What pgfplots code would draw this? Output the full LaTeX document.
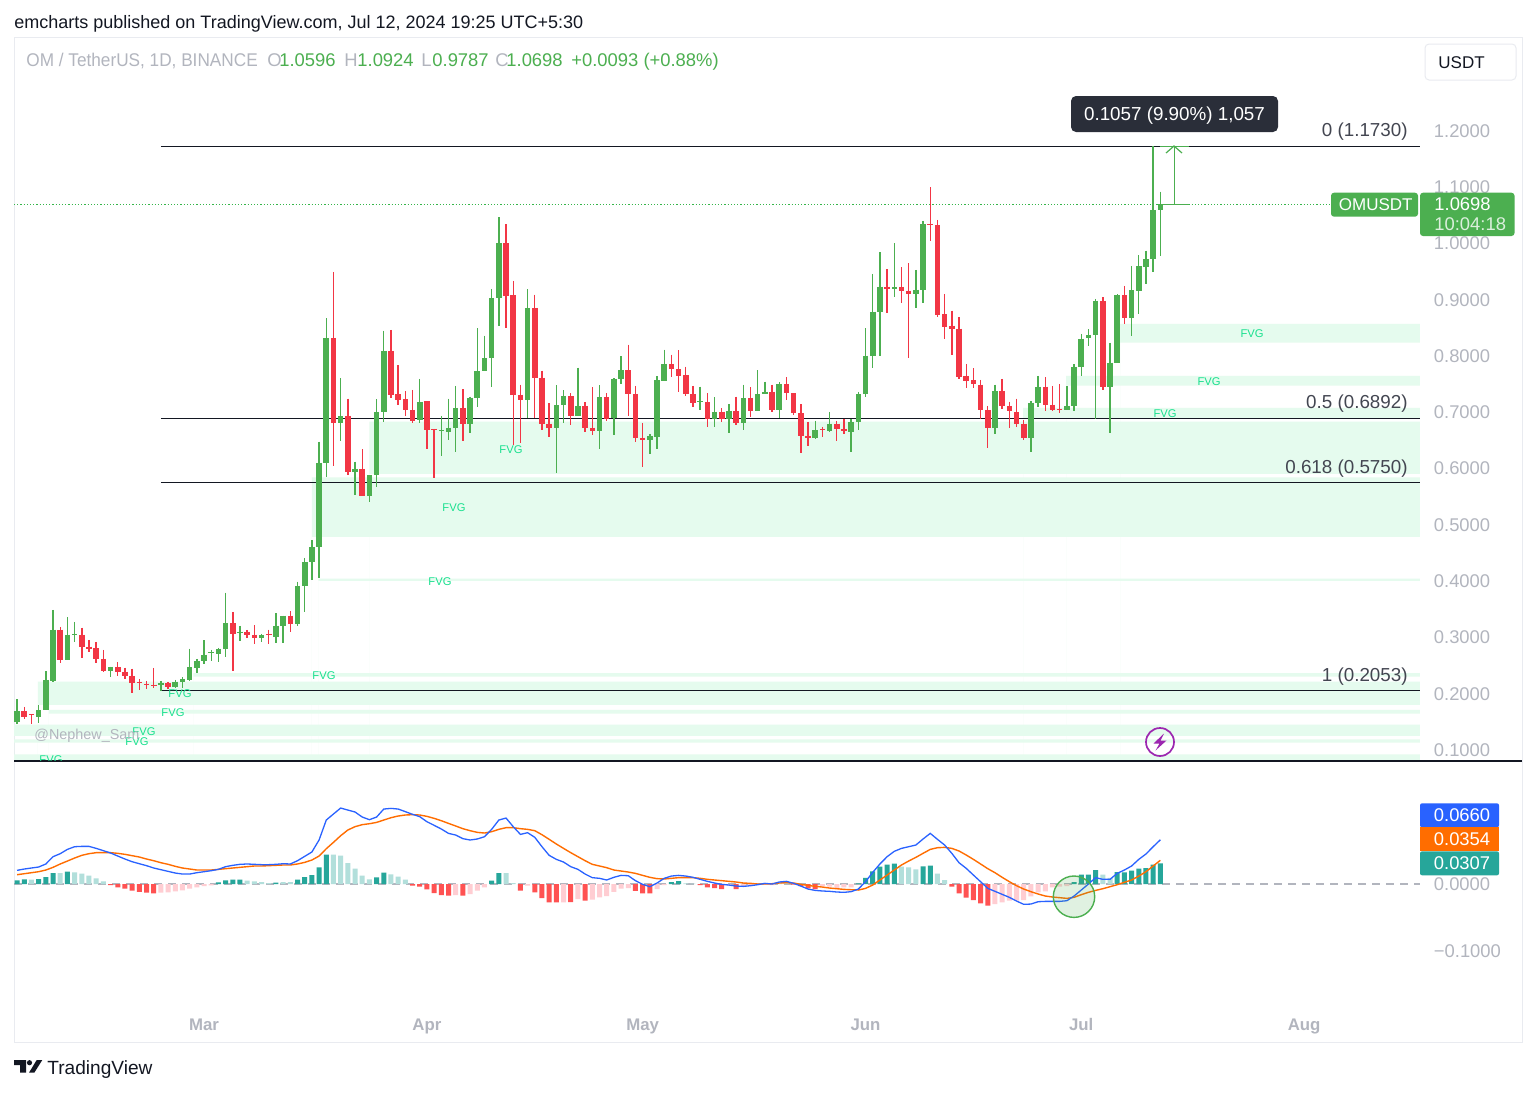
\documentclass[border=0pt]{standalone}
\usepackage{fontspec}
\setmainfont{Liberation Sans}
\usepackage{graphicx}
\usepackage{pgfplots}
\usepackage{pgfplotstable}
\pgfplotsset{compat=1.18}

\definecolor{cup}{HTML}{4CAF50}
\definecolor{cdown}{HTML}{F23645}
\definecolor{fvg}{HTML}{E5FBEE}
\definecolor{fvgtxt}{HTML}{18E08E}
\definecolor{frame}{HTML}{E9EBF0}
\definecolor{axtxt}{HTML}{B2B5BE}
\definecolor{ink}{HTML}{131722}
\definecolor{fibtxt}{HTML}{434651}
\definecolor{macd}{HTML}{2962FF}
\definecolor{signal}{HTML}{FF6D00}
\definecolor{histA}{HTML}{26A69A}
\definecolor{histB}{HTML}{B2DFDB}
\definecolor{histC}{HTML}{FF5252}
\definecolor{histD}{HTML}{FFCDD2}
\definecolor{tipbg}{HTML}{2A2E39}
\definecolor{bolt}{HTML}{9C27B0}
\definecolor{lastline}{HTML}{35B54A}

% x is days since 1 March 2024
\pgfplotstableread{
d o h l c
-26 .1506 .1902 .1458 .1695
-23 .1589 .1796 .1476 .1707
-22 .1707 .2400 .1707 .2246
-21 .2234 .3489 .2216 .3140
-19 .2601 .3359 .2601 .3051
-18 .3051 .3276 .2927 .3063
-13 .2412 .2483 .2299 .2477
-6 .2151 .2228 .2050 .2198
-4 .2116 .2246 .2098 .2216
-3 .2216 .2293 .2110 .2264
-2 .2246 .2802 .2222 .2471
-1 .2465 .2619 .2364 .2583
0 .2583 .2950 .2530 .2696
1 .2731 .2779 .2583 .2743
2 .2702 .2814 .2571 .2802
3 .2790 .3797 .2660 .3252
5 .3081 .3205 .2944 .3098
8 .2998 .3063 .2915 .3039
10 .3015 .3430 .2909 .3211
11 .3211 .3388 .2909 .3388
13 .3240 .3992 .3211 .3915
14 .3915 .4413 .3454 .4336
15 .4342 .4733 .4022 .4609
16 .4609 .6480 .4058 .6101
17 .6098 .8673 .5849 .8324
19 .6820 .7607 .6500 .6933
21 .5944 .6127 .5535 .5997
23 .5506 .5891 .5399 .5891
24 .5879 .7234 .5683 .7009
25 .7004 .8454 .6838 .8093
30 .6856 .7596 .6808 .7187
33 .6666 .6938 .6228 .6684
34 .6660 .7246 .6512 .6731
35 .6725 .7471 .6305 .7080
37 .6802 .7282 .6631 .7264
38 .7252 .8495 .7104 .7732
39 .7732 .8365 .7732 .7963
40 .7969 .9194 .7459 .9034
41 .9028 1.0467 .8543 1.0005
45 .7217 .9188 .6897 .8857
49 .6725 .7483 .5920 .7128
50 .7128 .7394 .6808 .7294
52 .6944 .7797 .6944 .7116
55 .6670 .7481 .6345 .7268
57 .6895 .7606 .6593 .7594
58 .7588 .8002 .7505 .7748
62 .6510 .6617 .6262 .6576
63 .6570 .7641 .6357 .7570
64 .7564 .8115 .7564 .7860
69 .7179 .7458 .7043 .7197
71 .6883 .7268 .6747 .7014
73 .6883 .7144 .6629 .7025
75 .6812 .7493 .6688 .7256
77 .7031 .7748 .7031 .7321
78 .7327 .7546 .7327 .7369
80 .7043 .7535 .6901 .7505
85 .6546 .6854 .6534 .6688
87 .6676 .7008 .6658 .6800
90 .6658 .6877 .6303 .6830
91 .6824 .7363 .6682 .7321
92 .7318 .8496 .7270 .8010
93 .8010 .9461 .7797 .8792
94 .8792 .9845 .8010 .9236
96 .9200 1.0005 .9046 .9230
99 .9099 .9532 .8863 .9182
100 .9176 1.0402 .8951 1.0343
110 .6726 .7495 .6619 .7383
115 .6542 .7199 .6293 .7175
116 .7170 .7649 .7087 .7460
120 .7051 .7471 .7051 .7116
121 .7110 .7856 .7033 .7809
122 .7809 .8395 .7649 .8312
123 .8330 .8478 .8182 .8377
124 .8377 .9017 .6891 .8987
126 .7460 .8241 .6631 .7886
127 .7886 .9099 .7886 .9088
129 .8685 .9603 .8365 .9170
130 .9159 .9792 .8744 .9597
131 .9585 .9875 .9283 .9721
132 .9721 1.1730 .9496 1.0596
133 1.0596 1.0924 .9787 1.0698
}\upcandles

\pgfplotstableread{
d o h l c
-25 .1695 .1766 .1559 .1595
-24 .1636 .1640 .1458 .1618
-20 .3140 .3187 .2554 .2601
-17 .3051 .3175 .2642 .2832
-16 .2838 .2956 .2749 .2802
-15 .2808 .2921 .2554 .2613
-14 .2619 .2779 .2394 .2412
-12 .2471 .2560 .2323 .2388
-11 .2394 .2465 .2258 .2317
-10 .2317 .2447 .2021 .2187
-9 .2210 .2258 .2062 .2193
-8 .2181 .2228 .2092 .2163
-7 .2163 .2459 .2110 .2145
-5 .2198 .2210 .2092 .2121
4 .3252 .3454 .2412 .3069
6 .3104 .3134 .2992 .3051
7 .3051 .3217 .2879 .2992
9 .3063 .3140 .2879 .3045
12 .3388 .3465 .3092 .3240
18 .8324 .9496 .6050 .6820
20 .6939 .7246 .5879 .5944
22 .5997 .6341 .5506 .5506
26 .8093 .8466 .7252 .7311
27 .7323 .7838 .7134 .7229
28 .7234 .7377 .6939 .7045
29 .7045 .7400 .6808 .6844
31 .7199 .7199 .6352 .6690
32 .6708 .6708 .5831 .6684
36 .7080 .7412 .6500 .6802
42 1.0005 1.0342 .8495 .9076
43 .9082 .9336 .6423 .7317
44 .7317 .7495 .6453 .7217
46 .8857 .9093 .6897 .7619
47 .7619 .7744 .6690 .6802
48 .6802 .7163 .6560 .6725
51 .7288 .7341 .6773 .6944
53 .7116 .7181 .6660 .6725
54 .6729 .7446 .6593 .6670
56 .7268 .7339 .6854 .6877
59 .7748 .8204 .6937 .7327
60 .7327 .7469 .6469 .6546
61 .6552 .6812 .6037 .6510
65 .7860 .8026 .7623 .7765
66 .7771 .8103 .7363 .7641
67 .7659 .7813 .7298 .7333
68 .7327 .7469 .7102 .7162
70 .7179 .7339 .6735 .6889
72 .7014 .7073 .6836 .6889
74 .7025 .7280 .6783 .6806
76 .7256 .7446 .6913 .7025
79 .7369 .7493 .7002 .7043
81 .7505 .7623 .7221 .7339
82 .7339 .7339 .6954 .6984
83 .6984 .7144 .6285 .6581
84 .6581 .6830 .6404 .6546
86 .6706 .6741 .6558 .6688
88 .6800 .6848 .6499 .6700
89 .6706 .6889 .6617 .6664
95 .9236 .9543 .8774 .9194
97 .9230 .9579 .8940 .9165
98 .9165 .9650 .7974 .9099
101 1.0349 1.1000 1.0053 1.0337
102 1.0331 1.0420 .8703 .8732
103 .8744 .9105 .8312 .8525
104 .8543 .8809 .8022 .8490
105 .8490 .8691 .7602 .7637
106 .7649 .7862 .7442 .7566
107 .7572 .7785 .7430 .7513
108 .7495 .7578 .6879 .7039
109 .7039 .7116 .6376 .6726
111 .7383 .7596 .7057 .7116
112 .7116 .7193 .6714 .7016
113 .7004 .7246 .6737 .6802
114 .6802 .6868 .6518 .6542
117 .7460 .7625 .7033 .7134
118 .7140 .7471 .7033 .7051
119 .7069 .7501 .6986 .7051
125 .8981 .9046 .7400 .7460
128 .9082 .9247 .8572 .8685
}\downcandles

\pgfplotstableread{
d v
-26 .0055
-25 .0070
-23 .0075
-22 .0104
-21 .0164
-19 .0184
2 .0025
3 .0055
4 .0065
5 .0065
10 .0020
13 .0065
14 .0104
15 .0134
16 .0249
17 .0438
24 .0100
25 .0169
40 .0050
41 .0164
65 .0030
66 .0045
91 .0010
92 .0090
93 .0189
94 .0259
95 .0289
96 .0303
100 .0264
101 .0274
121 .0030
122 .0139
123 .0139
124 .0209
127 .0179
128 .0174
129 .0199
130 .0229
131 .0239
132 .0289
133 .0307
}\barsA

\pgfplotstableread{
d v
-24 .0065
-20 .0164
-18 .0174
-17 .0154
-16 .0124
-15 .0085
-14 .0040
6 .0050
7 .0040
8 .0030
9 .0015
11 .0030
12 .0030
18 .0438
19 .0423
20 .0313
21 .0229
22 .0124
23 .0070
26 .0144
27 .0109
28 .0065
42 .0164
43 .0015
67 .0010
68 .0005
77 .0005
80 .0010
81 .0010
97 .0259
98 .0249
99 .0219
102 .0154
103 .0060
125 .0139
126 .0090
}\barsB

\pgfplotstableread{
d v
-13 -.0015
-12 -.0050
-11 -.0070
-10 -.0100
-9 -.0119
-8 -.0129
-7 -.0139
29 -.0025
30 -.0040
31 -.0080
32 -.0134
33 -.0164
34 -.0174
36 -.0174
44 -.0100
46 -.0124
47 -.0209
48 -.0274
49 -.0274
51 -.0269
53 -.0249
60 -.0104
61 -.0139
62 -.0139
69 -.0015
70 -.0050
71 -.0060
72 -.0075
74 -.0075
82 -.0010
83 -.0030
84 -.0065
85 -.0075
104 -.0040
105 -.0139
106 -.0204
107 -.0239
108 -.0289
109 -.0323
}\barsC

\pgfplotstableread{
d v
-6 -.0129
-5 -.0124
-4 -.0109
-3 -.0095
-2 -.0070
-1 -.0050
0 -.0030
1 -.0020
35 -.0164
37 -.0149
38 -.0100
39 -.0050
45 -.0025
50 -.0274
52 -.0224
54 -.0234
55 -.0199
56 -.0179
57 -.0119
58 -.0070
59 -.0060
63 -.0075
64 -.0015
73 -.0025
75 -.0030
76 -.0020
78 -.0010
79 -.0015
86 -.0030
87 -.0040
88 -.0060
89 -.0050
90 -.0050
110 -.0299
111 -.0274
112 -.0249
113 -.0249
114 -.0239
115 -.0184
116 -.0124
117 -.0109
118 -.0050
119 -.0040
120 -.0030
}\barsD

% macd and signal lines
\pgfplotstableread{
d m s
-26 .0204 .0139
-25 .0224 .0154
-24 .0239 .0169
-23 .0254 .0184
-22 .0299 .0209
-21 .0408 .0249
-20 .0453 .0299
-19 .0517 .0343
-18 .0557 .0388
-17 .0562 .0428
-16 .0562 .0453
-15 .0532 .0468
-14 .0498 .0468
-13 .0463 .0468
-12 .0418 .0458
-11 .0373 .0443
-10 .0333 .0423
-9 .0303 .0403
-8 .0274 .0373
-7 .0239 .0348
-6 .0214 .0318
-5 .0189 .0294
-4 .0164 .0264
-3 .0149 .0239
-2 .0149 .0224
-1 .0169 .0209
0 .0184 .0209
1 .0199 .0209
2 .0219 .0219
3 .0259 .0229
4 .0279 .0239
5 .0294 .0249
6 .0299 .0259
7 .0294 .0269
8 .0289 .0269
9 .0289 .0274
10 .0294 .0279
11 .0303 .0284
12 .0299 .0284
13 .0348 .0299
14 .0413 .0323
15 .0478 .0358
16 .0657 .0418
17 .0955 .0527
18 .1045 .0622
19 .1134 .0721
20 .1104 .0806
21 .1075 .0856
22 .1000 .0886
23 .0960 .0900
24 .1000 .0920
25 .1119 .0955
26 .1129 .0990
27 .1119 .1015
28 .1080 .1030
29 .1040 .1035
30 .1005 .1030
31 .0930 .1010
32 .0876 .0980
33 .0821 .0945
34 .0756 .0905
35 .0731 .0866
36 .0677 .0826
37 .0657 .0796
38 .0672 .0771
39 .0706 .0761
40 .0816 .0781
41 .0955 .0816
42 .0985 .0841
43 .0856 .0841
44 .0741 .0826
45 .0766 .0816
46 .0697 .0796
47 .0557 .0736
48 .0428 .0667
49 .0368 .0597
50 .0328 .0532
51 .0259 .0468
52 .0219 .0408
53 .0149 .0348
54 .0095 .0294
55 .0085 .0269
56 .0060 .0244
57 .0100 .0209
58 .0129 .0194
59 .0124 .0179
60 .0050 .0159
61 -.0005 .0129
62 -.0040 .0100
63 .0015 .0080
64 .0085 .0075
65 .0119 .0085
66 .0129 .0095
67 .0119 .0095
68 .0100 .0095
69 .0070 .0085
70 .0040 .0070
71 .0015 .0060
72 -.0005 .0050
73 -.0015 .0040
74 -.0030 .0030
75 -.0035 .0015
76 -.0025 .0010
77 -.0010 0
78 .0010 0
79 0 .0005
80 .0030 .0015
81 .0040 .0020
82 .0010 .0015
83 -.0030 -.0005
84 -.0075 -.0020
85 -.0095 -.0035
86 -.0104 -.0045
87 -.0109 -.0060
88 -.0119 -.0070
89 -.0124 -.0080
90 -.0114 -.0085
91 -.0075 -.0090
92 .0035 -.0065
93 .0174 -.0015
94 .0299 .0060
95 .0408 .0134
96 .0488 .0209
97 .0532 .0284
98 .0557 .0343
99 .0582 .0398
100 .0672 .0458
101 .0756 .0517
102 .0667 .0542
103 .0582 .0547
104 .0458 .0532
105 .0318 .0493
106 .0234 .0433
107 .0134 .0368
108 .0035 .0299
109 -.0065 .0229
110 -.0109 .0169
111 -.0154 .0100
112 -.0199 .0035
113 -.0254 -.0025
114 -.0303 -.0075
115 -.0299 -.0114
116 -.0264 -.0149
117 -.0259 -.0179
118 -.0259 -.0194
119 -.0259 -.0204
120 -.0249 -.0214
121 -.0179 -.0199
122 -.0090 -.0159
123 0 -.0124
124 .0095 -.0095
125 .0070 -.0070
126 .0070 -.0040
127 .0159 -.0010
128 .0209 .0025
129 .0269 .0060
130 .0368 .0119
131 .0448 .0184
132 .0557 .0269
133 .0660 .0354
}\macdlines

\pgfplotsset{
  pane/.style={
    scale only axis, anchor=north west, width=754pt,
    xmin=-26.43, xmax=183.3,
    axis line style={draw=frame, line width=.5pt},
    major tick length=0pt,
    yticklabel pos=right,
    ticklabel style={font=\fontsize{9.2}{11}\selectfont, text=axtxt, inner sep=0pt},
    yticklabel style={anchor=west, xshift=-44.25pt},
  },
  fvgband/.style={fill=fvg, draw=none, forget plot},
  fibline/.style={ink, line width=.55pt, forget plot},
  wick/.style={draw=none, no markers, forget plot,
    error bars/y dir=minus, error bars/y explicit, error bars/error mark=none,
    error bars/error bar style={draw=#1, line width=.7pt}},
  body/.style={draw=none, no markers, forget plot,
    error bars/y dir=minus, error bars/y explicit, error bars/error mark=none,
    error bars/error bar style={draw=#1, line width=2.8pt}},
  hist/.style={ybar, bar width=2.5pt, bar shift=0pt, fill=#1, draw=none, forget plot},
}

\begin{document}
\begin{tikzpicture}
\fill[white] (0,0) rectangle (768pt,-546pt);
\useasboundingbox (0,0) rectangle (768pt,-546pt);

% price pane
\begin{axis}[pane, at={(7pt,-19pt)}, height=361.5pt,
  ymin=.0805, ymax=1.3653,
  xtick=\empty,
  ytick={.1,.2,.3,.4,.5,.6,.7,.8,.9,1,1.1,1.2},
  yticklabel style={/pgf/number format/.cd, fixed, fixed zerofill, precision=4, assume math mode=true},
]
\addplot[fvgband] coordinates {(23,.6835)(169.1,.6835)(169.1,.5906)(23,.5906)} \closedcycle;
\addplot[fvgband] coordinates {(15,.5847)(169.1,.5847)(169.1,.4787)(15,.4787)} \closedcycle;
\addplot[fvgband] coordinates {(113.9,.7079)(169.1,.7079)(169.1,.6892)(113.9,.6892)} \closedcycle;
\addplot[fvgband] coordinates {(119.9,.7648)(169.1,.7648)(169.1,.7475)(119.9,.7475)} \closedcycle;
\addplot[fvgband] coordinates {(127.4,.8571)(169.1,.8571)(169.1,.8239)(127.4,.8239)} \closedcycle;
\addplot[fvgband] coordinates {(15.9,.4045)(169.1,.4045)(169.1,.4005)(15.9,.4005)} \closedcycle;
\addplot[fvgband] coordinates {(-1.5,.2365)(169.1,.2365)(169.1,.2305)(-1.5,.2305)} \closedcycle;
\addplot[fvgband] coordinates {(-23.1,.2215)(169.1,.2215)(169.1,.1801)(-23.1,.1801)} \closedcycle;
\addplot[fvgband] coordinates {(-21.6,.1712)(169.1,.1712)(169.1,.1647)(-21.6,.1647)} \closedcycle;
\addplot[fvgband] coordinates {(-26.43,.1452)(169.1,.1452)(169.1,.1251)(-26.43,.1251)} \closedcycle;
\addplot[fvgband] coordinates {(-26.43,.1191)(169.1,.1191)(169.1,.1132)(-26.43,.1132)} \closedcycle;
\addplot[fvgband] coordinates {(-26.43,.0925)(169.1,.0925)(169.1,.0824)(-26.43,.0824)} \closedcycle;

\addplot[fibline] coordinates {(-6,1.1730)(169.1,1.1730)};
\addplot[fibline] coordinates {(-6,.6892)(169.1,.6892)};
\addplot[fibline] coordinates {(-6,.5750)(169.1,.5750)};
\addplot[fibline] coordinates {(-6,.2053)(169.1,.2053)};
\addplot[lastline, line width=.6pt, densely dotted, forget plot] coordinates {(-26.43,1.0698)(156.6,1.0698)};

\addplot[wick=cup] table[x=d, y=h, y error minus expr=\thisrow{h}-\thisrow{l}] {\upcandles};
\addplot[wick=cdown] table[x=d, y=h, y error minus expr=\thisrow{h}-\thisrow{l}] {\downcandles};
\addplot[body=cup] table[x=d, y=c, y error minus expr=\thisrow{c}-\thisrow{o}] {\upcandles};
\addplot[body=cdown] table[x=d, y=o, y error minus expr=\thisrow{o}-\thisrow{c}] {\downcandles};

% long position tool
\addplot[cup, line width=.6pt, forget plot] coordinates {(133,1.0698)(137,1.0698)};
\addplot[cup, line width=.6pt, forget plot] coordinates {(133,1.1730)(137,1.1730)};
\addplot[cup, line width=.6pt, forget plot] coordinates {(135,1.0698)(135,1.1730)};
\end{axis}

% macd pane
\begin{axis}[pane, at={(7pt,-380.5pt)}, height=140.5pt,
  ymin=-.2358, ymax=.1836,
  xtick={0,31,61,92,122,153},
  xticklabels={Mar,Apr,May,Jun,Jul,Aug},
  xticklabel style={font=\fontsize{8.4}{10}\selectfont\bfseries, anchor=base, yshift=6pt},
  ytick={-.1,0},
  yticklabels={−0.1000,0.0000},
]
\addplot[axtxt, line width=.55pt, dash pattern=on 4pt off 3pt, forget plot] coordinates {(-26.43,0)(169.1,0)};
\addplot[hist=histA] table[x=d, y=v] {\barsA};
\addplot[hist=histB] table[x=d, y=v] {\barsB};
\addplot[hist=histC] table[x=d, y=v] {\barsC};
\addplot[hist=histD] table[x=d, y=v] {\barsD};
\addplot[signal, line width=.7pt, forget plot] table[x=d, y=s] {\macdlines};
\addplot[macd, line width=.65pt, forget plot] table[x=d, y=m] {\macdlines};
\end{axis}

% overlays, in pixels of the reference from its top left corner
\begin{scope}[x=.5pt, y=-.5pt]
\draw[ink, line width=.6pt] (14,761) -- (1522,761);
\tikzset{t/.style={anchor=base west, inner sep=0pt, font=\fontsize{9.2}{11}\selectfont}}
\node[t, text=ink, font=\fontsize{9}{11}\selectfont] at (14,28) {emcharts published on TradingView.com, Jul 12, 2024 19:25 UTC+5:30};
\node[t, text=axtxt] at (26,66) {\scalebox{.935}[1]{OM / TetherUS, 1D, BINANCE}};
\node[t, text=axtxt] at (267,66) {O};
\node[t, text=cup] at (279,66) {1.0596};
\node[t, text=axtxt] at (344,66) {H};
\node[t, text=cup] at (357,66) {1.0924};
\node[t, text=axtxt] at (421,66) {L};
\node[t, text=cup] at (432,66) {0.9787};
\node[t, text=axtxt] at (495,66) {C};
\node[t, text=cup] at (506,66) {1.0698};
\node[t, text=cup] at (571,66) {+0.0093 (+0.88\%)};

\draw[frame, fill=white, rounded corners=2pt, line width=.5pt] (1425,44) rectangle (1516,80);
\node[t, text=ink, font=\fontsize{8.5}{10}\selectfont] at (1438,68) {USDT};

\tikzset{f/.style={anchor=base east, inner sep=0pt, text=fibtxt, font=\fontsize{9.4}{11}\selectfont}}
\node[f] at (1408,136) {0 (1.1730)};
\node[f] at (1408,408) {0.5 (0.6892)};
\node[f] at (1408,473) {0.618 (0.5750)};
\node[f] at (1408,681) {1 (0.2053)};

\tikzset{g/.style={text=fvgtxt, inner sep=0pt, font=\fontsize{5.6}{7}\selectfont}}
\foreach \x/\y in {511/450, 454/508, 440/582, 324/676, 180/694, 173/713, 144/732, 137/742, 1252/334, 1209/382, 1165/414}
  \node[g] at (\x,\y) {FVG};
\begin{scope}
\clip (14,740) rectangle (300,760);
\node[g] at (51,760) {FVG};
\end{scope}

\node[anchor=base west, inner sep=0pt, text=axtxt, font=\fontsize{7.2}{9}\selectfont] at (34,739) {@Nephew\_Sam};

% measuring tool
\draw[cup, line width=.6pt] (1166,153) -- (1174,146) -- (1182,153);
\fill[tipbg, rounded corners=2.5pt] (1071,96) rectangle (1278,132);
\node[anchor=base, inner sep=0pt, text=white, font=\fontsize{9.4}{11}\selectfont] at (1174.5,120) {0.1057 (9.90\%) 1,057};

% price tags
\fill[cup, rounded corners=1.5pt] (1331,192.7) rectangle (1418,216.7);
\node[t, text=white, font=\fontsize{8.5}{10}\selectfont] at (1338.5,210.5) {OMUSDT};
\fill[cup, rounded corners=1.5pt] (1420,192.7) rectangle (1514.5,236);
\node[t, text=white] at (1434,210.5) {1.0698};
\node[t, text=white!80!cup] at (1434,230) {10:04:18};

% lightning mark
\draw[bolt, line width=.85pt] (1160,742) circle (14);
\fill[bolt] (1164,733.5) -- (1153.5,743.5) -- (1159.5,743.5) -- (1155.5,750.5) -- (1166.5,740.5) -- (1160.5,740.5) -- cycle;

% macd labels
\fill[macd, rounded corners=1pt] (1420,803.3) rectangle (1499,827.3);
\fill[signal] (1420,827.3) rectangle (1499,851.3);
\fill[histA, rounded corners=1pt] (1420,851.3) rectangle (1499,875.3);
\node[t, text=white] at (1433.5,821) {0.0660};
\node[t, text=white] at (1433.5,845) {0.0354};
\node[t, text=white] at (1433.5,869) {0.0307};

% circled crossover
\draw[cup, fill=cup, fill opacity=.17, line width=.7pt] (1074,896.7) circle (20.7);

% logo
\fill[ink] (14,1060) -- (26,1060) -- (26,1072.7) -- (20,1072.7) -- (20,1065) -- (14,1065) -- cycle;
\fill[ink] (29.5,1062.7) circle (2.6);
\fill[ink] (36.7,1060) -- (42.3,1060) -- (34.3,1072.7) -- (29,1072.7) -- cycle;
\node[anchor=base west, inner sep=0pt, text=ink, font=\fontsize{9.55}{12}\selectfont] at (47,1074) {TradingView};
\end{scope}
\end{tikzpicture}
\end{document}
